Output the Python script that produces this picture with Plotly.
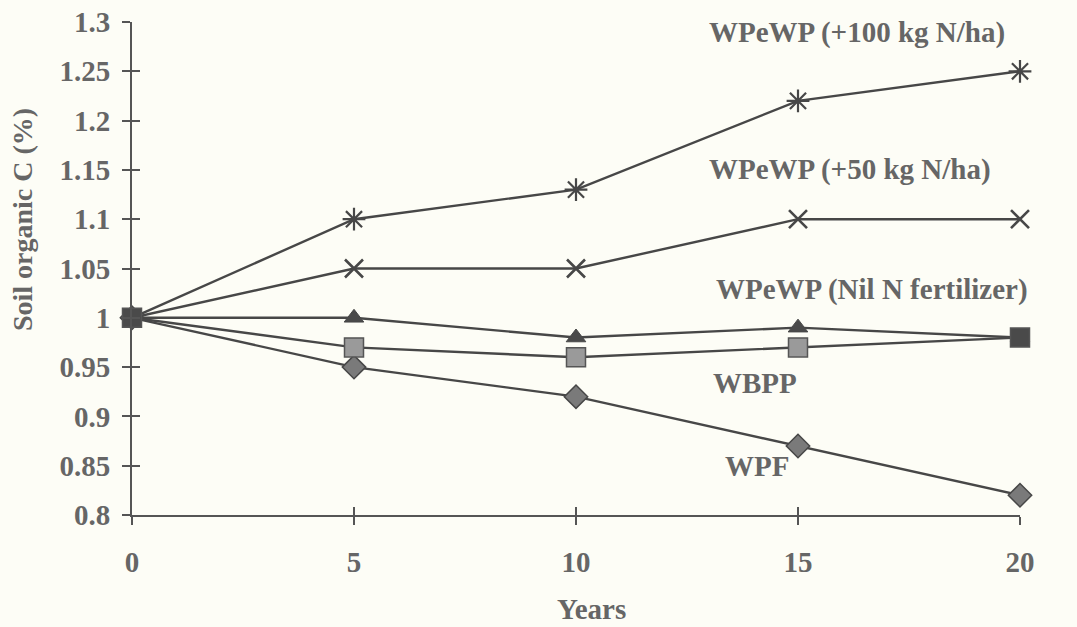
import plotly.graph_objects as go

# Soil organic carbon under different rotations over 20 years
years = [0, 5, 10, 15, 20]
wpewp_100n = [1.00, 1.10, 1.13, 1.22, 1.25]
wpewp_50n = [1.00, 1.05, 1.05, 1.10, 1.10]
wpewp_nil = [1.00, 1.00, 0.98, 0.99, 0.98]
wbpp = [1.00, 0.97, 0.96, 0.97, 0.98]
wpf = [1.00, 0.95, 0.92, 0.87, 0.82]

y_ticks = [0.8, 0.85, 0.9, 0.95, 1.0, 1.05, 1.1, 1.15, 1.2, 1.25, 1.3]
y_ticklabels = ["0.8", "0.85", "0.9", "0.95", "1", "1.05", "1.1", "1.15", "1.2", "1.25", "1.3"]
x_ticks = [0, 5, 10, 15, 20]

# label text and its anchor (in data units)
labels = ["WPeWP (+100 kg N/ha)", "WPeWP (+50 kg N/ha)", "WPeWP (Nil N fertilizer)", "WBPP", "WPF"]
label_x = [16.33, 16.17, 16.67, 14.03, 14.08]
label_y = [1.289, 1.150, 1.029, 0.934, 0.850]

LINE = "#474747"
TEXT = "#666666"
BG = "#fdfdf6"
FONT = "Liberation Serif"

# square fill: darker where the markers pile up at the ends
square_fill = ["#4a4a4a", "#9a9a9a", "#9a9a9a", "#9a9a9a", "#4a4a4a"]


def text_font(size=29):
    return dict(family=FONT, size=size, color=TEXT, weight="bold")


fig = go.Figure()

line_style = dict(color=LINE, width=2.4)

fig.add_trace(go.Scatter(
    x=years, y=wpewp_100n, mode="lines+markers", line=line_style,
    marker=dict(symbol="asterisk-open", size=19, line=dict(color=LINE, width=2.2)),
    cliponaxis=False, name="WPeWP (+100 kg N/ha)"))
fig.add_trace(go.Scatter(
    x=years, y=wpewp_50n, mode="lines+markers", line=line_style,
    marker=dict(symbol="x-thin-open", size=18, line=dict(color=LINE, width=2.6)),
    cliponaxis=False, name="WPeWP (+50 kg N/ha)"))
fig.add_trace(go.Scatter(
    x=years, y=wpf, mode="lines+markers", line=line_style,
    marker=dict(symbol="diamond", size=18, color="#7a7a7a", line=dict(color=LINE, width=1.5)),
    cliponaxis=False, name="WPF"))
fig.add_trace(go.Scatter(
    x=years, y=wpewp_nil, mode="lines+markers", line=line_style,
    marker=dict(symbol="triangle-up", size=17, color="#4a4a4a", line=dict(color=LINE, width=1)),
    cliponaxis=False, name="WPeWP (Nil N fertilizer)"))
fig.add_trace(go.Scatter(
    x=years, y=wbpp, mode="lines+markers", line=line_style,
    marker=dict(symbol="square", size=19, color=square_fill,
                line=dict(color="#555555", width=1.5)),
    cliponaxis=False, name="WBPP"))

for t, lx, ly in zip(labels, label_x, label_y):
    fig.add_annotation(x=lx, y=ly, xref="x", yref="y", text=t, showarrow=False,
                       font=text_font(), xanchor="center", yanchor="middle")

# y-axis title, set a little above the plot's middle
fig.add_annotation(x=-0.124, y=0.60, xref="paper", yref="paper",
                   text="Soil organic C (%)", textangle=-90, showarrow=False,
                   font=text_font(28), xanchor="center", yanchor="middle")

# x-axis title
fig.add_annotation(x=0.518, y=-0.19, xref="paper", yref="paper",
                   text="Years", showarrow=False,
                   font=text_font(), xanchor="center", yanchor="middle")

axis_common = dict(showgrid=False, zeroline=False, linecolor="#555555", linewidth=2,
                   tickcolor="#555555", tickwidth=2, ticklen=8, automargin=False,
                   tickfont=text_font())

fig.update_layout(
    width=1077, height=627,
    margin=dict(l=132, r=57, t=22, b=112),
    paper_bgcolor=BG, plot_bgcolor=BG,
    showlegend=False,
    xaxis=dict(range=[0, 20], tickvals=x_ticks, ticks="outside", showline=True,
               ticklabelstandoff=12, **axis_common),
    yaxis=dict(range=[0.8, 1.3], tickvals=y_ticks, ticktext=y_ticklabels, ticks="outside",
               showline=True, ticklabelstandoff=6, **axis_common),
    # inner half of the crossing tick marks
    xaxis2=dict(range=[0, 20], tickvals=x_ticks, ticks="inside", showticklabels=False,
                overlaying="x", side="bottom", anchor="y", showgrid=False, zeroline=False,
                showline=False, tickcolor="#555555", tickwidth=2, ticklen=8),
    yaxis2=dict(range=[0.8, 1.3], tickvals=y_ticks, ticks="inside", showticklabels=False,
                overlaying="y", side="left", anchor="x", showgrid=False, zeroline=False,
                showline=False, tickcolor="#555555", tickwidth=2, ticklen=8),
)

# invisible trace to bring the overlay axes into the figure
fig.add_trace(go.Scatter(x=[], y=[], xaxis="x2", yaxis="y2", showlegend=False, hoverinfo="skip"))

fig.write_html("out.html")
